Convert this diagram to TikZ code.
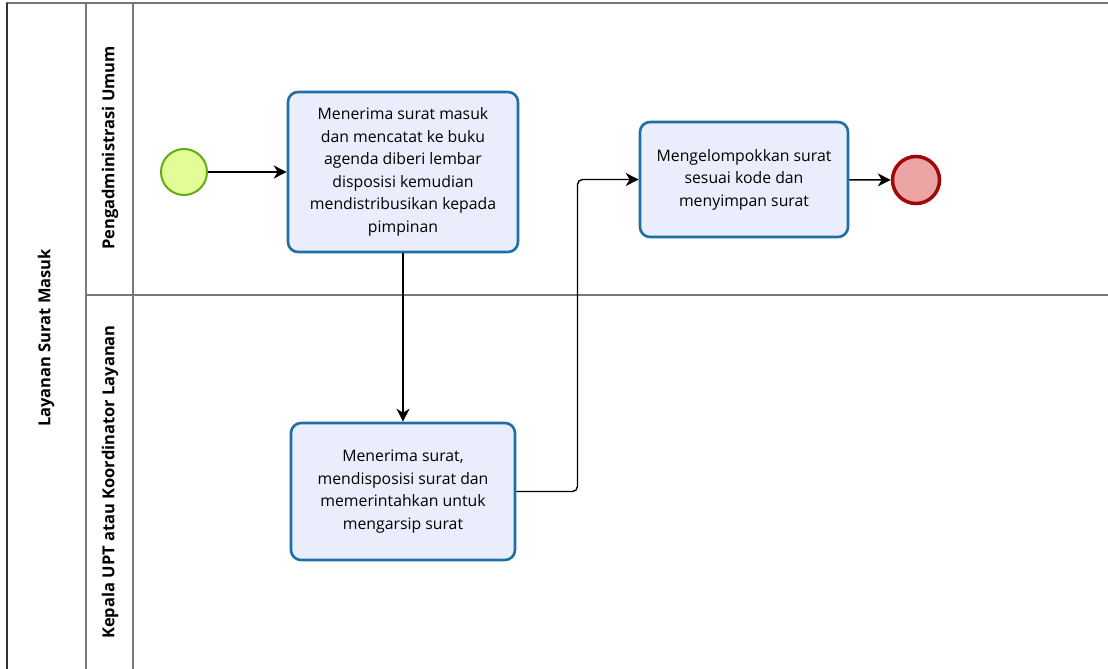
\documentclass[tikz,border=0pt]{standalone}
\usepackage{fontspec}
\setmainfont{Open Sans}
\usetikzlibrary{arrows.meta,calc}

\definecolor{taskfill}{RGB}{234,238,252}
\definecolor{taskline}{RGB}{30,112,164}
\definecolor{startfill}{RGB}{228,252,150}
\definecolor{startline}{RGB}{100,170,24}
\definecolor{endfill}{RGB}{236,164,164}
\definecolor{endline}{RGB}{160,8,8}
\definecolor{laneline}{RGB}{120,120,120}

\tikzset{
    task/.style={
      draw=taskline, fill=taskfill, line width=2.6pt, rounded corners=10pt,
      align=center, inner sep=0pt,
      font=\fontsize{15.8}{22.5}\selectfont
    }
  }
\tikzset{
    startevent/.style={
      circle, draw=startline, fill=startfill, line width=2pt, minimum size=46pt
    },
    endevent/.style={
      circle, draw=endline, fill=endfill, line width=3.5pt, minimum size=47pt
    },
    flow/.style={
      draw=black, line width=1.4pt, -{Stealth[length=13pt,width=13pt,inset=4pt]}
    },
    lanelabel/.style={
      rotate=90, font=\bfseries\fontsize{16.5}{18}\selectfont
    }
  }

\begin{document}
\begin{tikzpicture}[x=1pt,y=-1pt]
    \useasboundingbox (0,0) rectangle (1108,669);
    \clip (0,0) rectangle (1108,669);

    \draw[laneline, line width=1.6pt] (7,3) rectangle (1120,675);
    \draw[black!80, line width=1.6pt] (7,3) -- (7,675);
    \draw[laneline, line width=1.6pt] (86,3) -- (86,675);
    \draw[laneline, line width=1.6pt] (133,3) -- (133,675);
    \draw[laneline, line width=1.6pt] (86,295) -- (1120,295);

    \node[lanelabel] (pool) at (46,338) {Layanan Surat Masuk};
    \node[lanelabel] (lane1) at (110,148) {Pengadministrasi Umum};
    \node[lanelabel] (lane2) at (110,482) {Kepala UPT atau Koordinator Layanan};

    \node[startevent] (start) at (184,172) {};
    \node[task, minimum width=230pt, minimum height=160pt] (terima) at (403,172)
      {Menerima surat masuk\\dan mencatat ke buku\\agenda diberi lembar\\disposisi kemudian\\mendistribusikan kepada\\pimpinan};
    \node[task, minimum width=224pt, minimum height=137pt] (disposisi) at (403,491.5)
      {Menerima surat,\\mendisposisi surat dan\\memerintahkan untuk\\mengarsip surat};
    \node[task, minimum width=208pt, minimum height=115pt] (arsip) at (744,179.5)
      {Mengelompokkan surat\\sesuai kode dan\\menyimpan surat};
    \node[endevent] (end) at (916,180) {};

    \draw[flow] (start) -- (terima);
    \draw[flow] (terima) -- (disposisi);
    \draw[flow, rounded corners=5pt] (disposisi.east) -| ($(disposisi.east)!0.5!(arsip.west)$) |- (arsip.west);
    \draw[flow] (arsip) -- (end);

  \end{tikzpicture}
\end{document}
